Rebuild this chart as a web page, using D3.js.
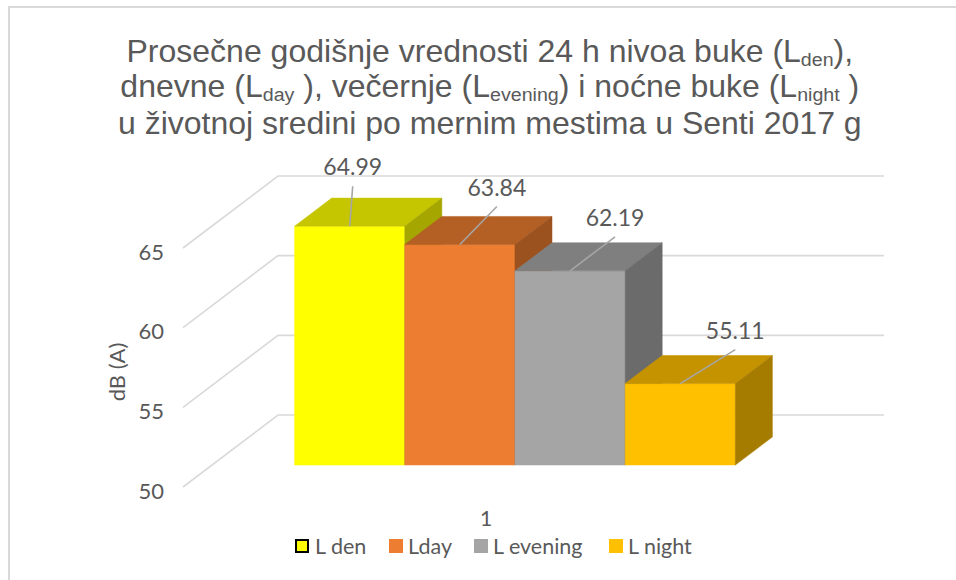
<!DOCTYPE html>
<html><head><meta charset="utf-8">
<script src="https://cdn.jsdelivr.net/npm/d3@7"></script>
<style>body{margin:0;background:#fff}svg{display:block}</style>
</head><body>
<svg id="c" width="956" height="580"></svg>
<script>
// ---- data ----
const categories = ["1"];
const series = ["L den", "Lday", "L evening", "L night"];
const values = [64.99, 63.84, 62.19, 55.11];
const yTicks = [50, 55, 60, 65];
const frontColors = ["#FFFF00", "#ED7D31", "#A5A5A5", "#FFC000"];
const topColors = ["#C5C500", "#B45F24", "#7F7F7F", "#C59300"];
const sideColors = ["#A6A600", "#9C521F", "#6B6B6B", "#A67C00"];
// label offsets (layout) relative to bar top-front centre
const labelOffsets = [[3, -59], [37, -57], [45, -53], [55, -53]];

const svg = d3.select("#c");
const grey = "#595959";
const numFont = "Lato, 'Open Sans', sans-serif";

// border
svg.append("rect").attr("x", 9).attr("y", 7).attr("width", 960).attr("height", 590)
  .attr("fill", "none").attr("stroke", "#d9d9d9").attr("stroke-width", 2);

// projection
const DX = 95, DY = -72;
const y = d3.scaleLinear().domain([50, 65]).range([487, 248]);
const xCat = d3.scaleBand().domain(categories).range([183, 789]);
const xBar = d3.scaleBand().domain(series).range([xCat("1"), xCat("1") + xCat.bandwidth()])
  .paddingInner(0).paddingOuter(0.75);
const z0 = 0.305, z1 = 0.695;
const P = (x, v, z) => [x + DX * z, y(v) - (-DY) * z];

// gridlines
const grid = svg.append("g").attr("stroke", "#d9d9d9").attr("stroke-width", 1.6).attr("fill", "none");
yTicks.forEach(t => {
  const a = P(183, t, 0), b = P(183, t, 1), c = P(789, t, 1);
  grid.append("path").attr("d", `M${a}L${b}L${c}`);
});

// tick labels
svg.append("g").selectAll("text").data(yTicks).join("text")
  .attr("x", 164).attr("y", d => y(d) + 4).attr("dy", "0.35em")
  .attr("text-anchor", "end").attr("fill", grey)
  .style("font-family", numFont).style("font-size", "22px").text(d => d);

// axis title
svg.append("text").attr("transform", "translate(117,372) rotate(-90)")
  .attr("text-anchor", "middle").attr("dy", "0.35em").attr("fill", grey)
  .style("font-family", numFont).style("font-size", "22px").text("dB (A)");

// bars
const bars = svg.append("g");
series.forEach((s, i) => {
  const x0 = xBar(s), x1 = x0 + xBar.bandwidth(), v = values[i];
  const g = bars.append("g");
  const f = [P(x0, 50, z0), P(x1, 50, z0), P(x1, v, z0), P(x0, v, z0)];
  const t = [P(x0, v, z0), P(x1, v, z0), P(x1, v, z1), P(x0, v, z1)];
  const sd = [P(x1, 50, z0), P(x1, 50, z1), P(x1, v, z1), P(x1, v, z0)];
  g.append("path").attr("d", "M" + f.join("L") + "Z").attr("fill", frontColors[i]).attr("stroke", frontColors[i]).attr("stroke-width", 0.5);
  g.append("path").attr("d", "M" + t.join("L") + "Z").attr("fill", topColors[i]).attr("stroke", topColors[i]).attr("stroke-width", 0.5);
  g.append("path").attr("d", "M" + sd.join("L") + "Z").attr("fill", sideColors[i]).attr("stroke", sideColors[i]).attr("stroke-width", 0.5);
});

// data labels + leader lines
series.forEach((s, i) => {
  const cx = xBar(s) + xBar.bandwidth() / 2;
  const p = P(cx, values[i], z0);
  const lx = p[0] + labelOffsets[i][0], ly = p[1] + labelOffsets[i][1];
  svg.append("line").attr("x1", lx).attr("y1", ly + 19).attr("x2", p[0]).attr("y2", p[1])
    .attr("stroke", "#a6a6a6").attr("stroke-width", 1.6);
  svg.append("text").attr("x", lx).attr("y", ly).attr("dy", "0.35em")
    .attr("text-anchor", "middle").attr("fill", grey)
    .style("font-family", numFont).style("font-size", "23px").text(values[i].toFixed(2));
});

// category label
svg.append("text").attr("x", xCat("1") + xCat.bandwidth() / 2).attr("y", 519).attr("dy", "0.35em")
  .attr("text-anchor", "middle").attr("fill", grey)
  .style("font-family", numFont).style("font-size", "21px").text(categories[0]);

// legend
const legendX = [295, 389, 474, 609];
const lg = svg.append("g");
series.forEach((s, i) => {
  lg.append("rect").attr("x", legendX[i] + (i === 0 ? 1 : 0)).attr("y", 539 + (i === 0 ? 1 : 0))
    .attr("width", i === 0 ? 12 : 14).attr("height", i === 0 ? 12 : 14)
    .attr("fill", frontColors[i]).attr("stroke", i === 0 ? "#000" : "none").attr("stroke-width", 2);
  lg.append("text").attr("x", legendX[i] + (i === 0 ? 20 : 19)).attr("y", 546).attr("dy", "0.35em")
    .attr("fill", grey).style("font-family", numFont).style("font-size", "21.5px").text(s);
});

// title
const titleLines = [
  [["Prosečne godišnje vrednosti 24 h nivoa buke (L", 0], ["den", 1], ["),", 0]],
  [["dnevne (L", 0], ["day", 1], [" ), večernje (L", 0], ["evening", 1], [") i noćne buke (L", 0], ["night", 1], [" )", 0]],
  [["u životnoj sredini po mernim mestima u Senti 2017 g", 0]]
];
const baselines = [62, 97, 134];
const tg = svg.append("g");
const texts = titleLines.map((parts, li) => {
  const t = tg.append("text").attr("x", 0).attr("y", 0).attr("fill", grey)
    .style("font-family", "'Liberation Sans', Arial, sans-serif").style("font-size", "31px");
  let sub = false;
  parts.forEach(([str, isSub]) => {
    const ts = t.append("tspan").text(str).attr("xml:space", "preserve");
    if (isSub && !sub) { ts.attr("dy", 4).style("font-size", "19px"); sub = true; }
    else if (isSub) { ts.attr("dy", 0).style("font-size", "19px"); }
    else if (sub) { ts.attr("dy", -4); sub = false; }
  });
  return t;
});
const w3 = texts[2].node().getComputedTextLength();
const sx = 744 / w3;
texts.forEach((t, li) => {
  const w = t.node().getComputedTextLength();
  t.attr("transform", `translate(${490 - w * sx / 2},${baselines[li]}) scale(${sx},1)`);
});
</script>
</body></html>
